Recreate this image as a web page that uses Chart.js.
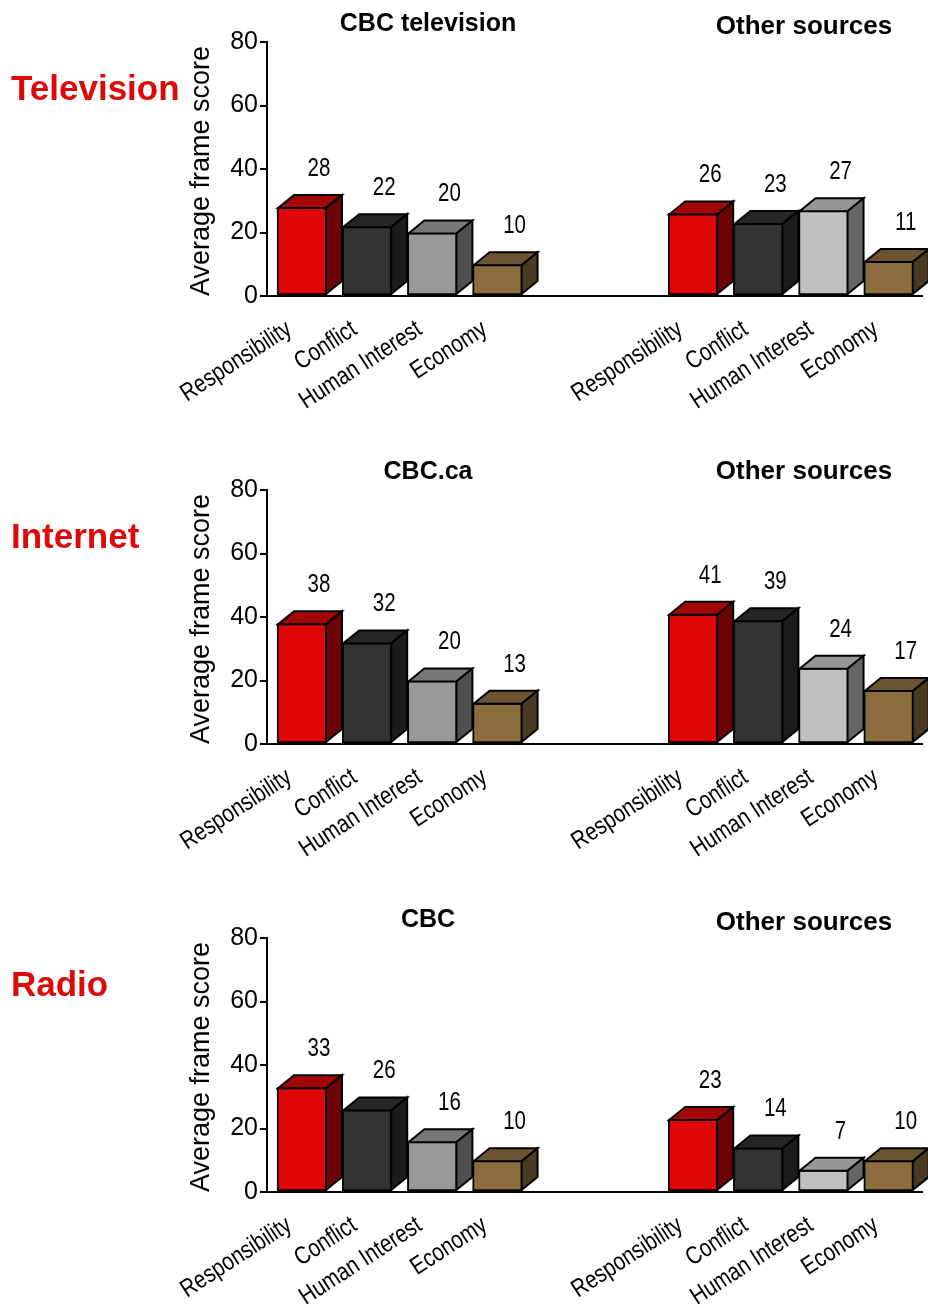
<!DOCTYPE html>
<html>
<head>
<meta charset="utf-8">
<script src="https://cdn.jsdelivr.net/npm/chart.js@4/dist/chart.umd.min.js"></script>
<style>
  html, body { margin: 0; padding: 0; background: #fff; }
  #wrap { position: relative; width: 928px; height: 1308px; }
  canvas { position: absolute; left: 0; }
</style>
</head>
<body>
<div id="wrap">
  <canvas id="tv" width="928" height="412" style="top:0"></canvas>
  <canvas id="web" width="928" height="412" style="top:448px"></canvas>
  <canvas id="radio" width="928" height="412" style="top:896px"></canvas>
</div>
<script>
// Frame categories and the average frame score for each source
const frames = ['Responsibility', 'Conflict', 'Human Interest', 'Economy'];

const tvCbc = [28, 22, 20, 10];
const tvOther = [26, 23, 27, 11];
const webCbc = [38, 32, 20, 13];
const webOther = [41, 39, 24, 17];
const radioCbc = [33, 26, 16, 10];
const radioOther = [23, 14, 7, 10];

// Slot positions along the x axis (two empty slots between the groups)
const cbcSlots = [0, 1, 2, 3];
const otherSlots = [6, 7, 8, 9];
const yTicks = [0, 20, 40, 60, 80];

// Face colours: front, then top and side shades
const cbcFill = ['#DD0806', '#333333', '#999999', '#8C6E3E'];
const otherFill = ['#DD0806', '#333333', '#C0C0C0', '#8C6E3E'];
const shades = {
  '#DD0806': ['#A30606', '#6E0303'],
  '#333333': ['#262626', '#1C1C1C'],
  '#999999': ['#777777', '#4F4F4F'],
  '#C0C0C0': ['#969696', '#666666'],
  '#8C6E3E': ['#6B5430', '#4A3A21']
};

const ARIAL = "'Liberation Sans', Arial, sans-serif";
const NARROW_SCALE = 0.82;   // horizontal squeeze for the condensed labels

const slotLabel = {};
cbcSlots.forEach((s, i) => { slotLabel[s] = frames[i]; });
otherSlots.forEach((s, i) => { slotLabel[s] = frames[i]; });
const slotTicks = cbcSlots.concat(otherSlots);

// Draws the top and side faces of each bar plus its value label
const box3d = {
  id: 'box3d',
  afterDatasetsDraw(chart, args, opts) {
    const ctx = chart.ctx;
    const meta = chart.getDatasetMeta(0);
    const ds = chart.data.datasets[0];
    const dx = opts.dx, dy = opts.dy;
    meta.data.forEach((bar, i) => {
      const p = bar.getProps(['x', 'y', 'base', 'width'], true);
      const l = p.x - p.width / 2 + 1, r = p.x + p.width / 2 - 1;
      const t = p.y + 1, b = p.base - 1;
      const [topC, sideC] = shades[ds.backgroundColor[i]];
      ctx.save();
      ctx.lineWidth = 2;
      ctx.strokeStyle = '#000';
      ctx.lineJoin = 'miter';
      ctx.beginPath();
      ctx.moveTo(l, t); ctx.lineTo(l + dx, t - dy); ctx.lineTo(r + dx, t - dy); ctx.lineTo(r, t);
      ctx.closePath();
      ctx.fillStyle = topC; ctx.fill(); ctx.stroke();
      ctx.beginPath();
      ctx.moveTo(r, t); ctx.lineTo(r + dx, t - dy); ctx.lineTo(r + dx, b - dy); ctx.lineTo(r, b);
      ctx.closePath();
      ctx.fillStyle = sideC; ctx.fill(); ctx.stroke();
      // value label in a narrowed sans
      ctx.translate(p.x + opts.labelDx, p.y - opts.labelDy);
      ctx.scale(NARROW_SCALE, 1);
      ctx.fillStyle = '#000';
      ctx.font = '25px ' + ARIAL;
      ctx.textAlign = 'center';
      ctx.textBaseline = 'middle';
      ctx.fillText(String(ds.data[i].y), 0, 0);
      ctx.restore();
    });
  }
};

// Slanted frame names under the x axis, placed at the axis tick positions
const slantLabels = {
  id: 'slantLabels',
  afterDraw(chart, args, o) {
    const ctx = chart.ctx;
    const xs = chart.scales.x;
    const y0 = xs.top + o.drop;
    ctx.save();
    ctx.fillStyle = '#000';
    ctx.font = o.size + 'px ' + ARIAL;
    ctx.textAlign = 'right';
    ctx.textBaseline = 'alphabetic';
    xs.ticks.forEach(tk => {
      const px = xs.getPixelForValue(tk.value) + o.shift;
      ctx.save();
      ctx.translate(px, y0);
      ctx.rotate(-o.angle * Math.PI / 180);
      ctx.scale(NARROW_SCALE, 1);
      ctx.fillText(slotLabel[tk.value], 0, 0);
      ctx.restore();
    });
    ctx.restore();
  }
};

// Medium name, group titles and the y-axis title
const panelText = {
  id: 'panelText',
  afterDraw(chart, args, o) {
    const ctx = chart.ctx;
    const a = chart.chartArea;
    ctx.save();
    ctx.textBaseline = 'alphabetic';
    ctx.fillStyle = '#DD0A0A';
    ctx.font = 'bold 35px ' + ARIAL;
    ctx.textAlign = 'left';
    ctx.fillText(o.side, 11, 100);
    ctx.fillStyle = '#000';
    ctx.textAlign = 'center';
    ctx.font = 'bold 25px ' + ARIAL;
    ctx.fillText(o.left, 428, o.leftY);
    ctx.font = 'bold 26px ' + ARIAL;
    ctx.fillText(o.right, 804, o.rightY);
    ctx.font = '27px ' + ARIAL;
    ctx.translate(209, (a.top + a.bottom) / 2 + 2);
    ctx.rotate(-Math.PI / 2);
    ctx.fillText('Average frame score', 0, 0);
    ctx.restore();
  }
};

function makePanel(id, side, leftTitle, rightTitle, rightY, cbcVals, otherVals) {
  const points = cbcVals.map((v, i) => ({ x: cbcSlots[i], y: v }))
    .concat(otherVals.map((v, i) => ({ x: otherSlots[i], y: v })));
  const colors = cbcFill.concat(otherFill);
  new Chart(document.getElementById(id), {
    type: 'bar',
    data: {
      datasets: [{
        data: points,
        backgroundColor: colors,
        borderColor: '#000',
        borderWidth: 2,
        borderSkipped: false,
        barThickness: 50
      }]
    },
    options: {
      responsive: false,
      animation: false,
      devicePixelRatio: 1,
      layout: { padding: { top: 42, right: 6, left: 0, bottom: 0 } },
      plugins: {
        legend: { display: false },
        tooltip: { enabled: false },
        box3d: { dx: 16, dy: 13, labelDx: 17, labelDy: 38 },
        slantLabels: { size: 25, angle: 33, drop: 37, shift: -9 },
        panelText: { side: side, left: leftTitle, right: rightTitle, leftY: 31, rightY: rightY }
      },
      scales: {
        x: {
          type: 'linear',
          offset: false,
          min: -0.537,
          max: 9.51,
          afterBuildTicks: s => { s.ticks = slotTicks.map(v => ({ value: v })); },
          afterFit: s => { s.height = 116; },
          grid: { display: false, drawTicks: false },
          border: { display: true, color: '#000', width: 2 },
          ticks: { display: false, autoSkip: false }
        },
        y: {
          min: 0,
          max: 80,
          afterBuildTicks: s => { s.ticks = yTicks.map(v => ({ value: v })); },
          afterFit: s => { s.width = 267; },
          grid: { drawOnChartArea: false, drawTicks: true, tickLength: 7, color: '#000', lineWidth: 2 },
          border: { display: true, color: '#000', width: 2 },
          ticks: { padding: 2, color: '#000', font: { family: ARIAL, size: 25 } }
        }
      }
    },
    plugins: [box3d, slantLabels, panelText]
  });
}

makePanel('tv', 'Television', 'CBC television', 'Other sources', 34, tvCbc, tvOther);
makePanel('web', 'Internet', 'CBC.ca', 'Other sources', 31, webCbc, webOther);
makePanel('radio', 'Radio', 'CBC', 'Other sources', 34, radioCbc, radioOther);
</script>
</body>
</html>
